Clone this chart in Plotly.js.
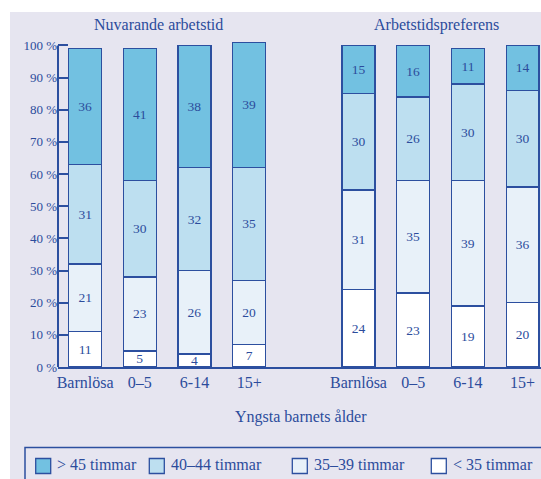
<!DOCTYPE html>
<html>
<head>
<meta charset="utf-8">
<script src="https://cdn.plot.ly/plotly-3.0.1.min.js"></script>
<style>html,body{margin:0;padding:0;background:#fff;}#chart{width:541px;height:479px;}</style>
</head>
<body>
<div id="chart"></div>
<script>
// ---- data ----
const categories = ['Barnlösa', '0–5', '6-14', '15+'];
const groupTitles = ['Nuvarande arbetstid', 'Arbetstidspreferens'];
const xTitle = 'Yngsta barnets ålder';
const seriesNames = ['< 35 timmar', '35–39 timmar', '40–44 timmar', '> 45 timmar'];
// first 4 values: Nuvarande arbetstid, last 4: Arbetstidspreferens
const under35 = [11, 5, 4, 7, 24, 23, 19, 20];
const h35_39 = [21, 23, 26, 20, 31, 35, 39, 36];
const h40_44 = [31, 30, 32, 35, 30, 26, 30, 30];
const over45 = [36, 41, 38, 39, 15, 16, 11, 14];
const yTicks = [0, 10, 20, 30, 40, 50, 60, 70, 80, 90, 100];
const yTickText = ['0 %', '10 %', '20 %', '30 %', '40 %', '50 %', '60 %', '70 %', '80 %', '90 %', '100 %'];

// ---- style ----
const seriesColors = ['#ffffff', '#e8f1f9', '#bddff0', '#72c1e1'];
const lineBlue = '#2c4f9f';
const textBlue = '#2c4c9c';
const bgLav = '#e6e5f0';
const FONT = 'Liberation Serif, Times New Roman, serif';

const W = 541, H = 479;
const M = {l: 58, r: 0, t: 39, b: 112};
const yMax = 102;
const xRange = [-0.496, 8.337];
const pw = W - M.l - M.r, ph = H - M.t - M.b;
const px = x => (x - M.l) / pw;
const py = y => (H - M.b - y) / ph;

const xPos = [0, 1, 2, 3, 5, 6, 7, 8];
const xLabels = categories.concat(categories);
const allSeries = [under35, h35_39, h40_44, over45];

const traces = allSeries.map((vals, i) => ({
  type: 'bar',
  name: seriesNames[i],
  x: xPos,
  y: vals,
  width: 0.6,
  marker: {color: seriesColors[i], line: {color: lineBlue, width: 1.3}},
  text: vals.map(String),
  textposition: 'inside',
  insidetextanchor: 'middle',
  textangle: 0,
  textfont: {family: FONT, size: 13.5, color: textBlue},
  hoverinfo: 'name+y',
  showlegend: false
}));

const shapes = [
  {type: 'rect', xref: 'paper', yref: 'paper', layer: 'below',
   x0: px(10), x1: px(600), y0: py(12), y1: py(520),
   fillcolor: bgLav, line: {width: 0}},
  {type: 'line', xref: 'paper', yref: 'paper', layer: 'above',
   x0: 0, x1: 0, y0: 0, y1: 100 / yMax,
   line: {color: lineBlue, width: 2}},
  {type: 'rect', xref: 'paper', yref: 'paper', layer: 'above',
   x0: px(25), x1: px(600), y0: py(447.5), y1: py(520),
   fillcolor: 'rgba(0,0,0,0)', line: {color: lineBlue, width: 1.5}}
];

const annotations = [
  {text: groupTitles[0], xref: 'paper', yref: 'paper', x: px(158), y: py(25),
   showarrow: false, xanchor: 'center', yanchor: 'middle',
   font: {family: FONT, size: 16, color: textBlue}},
  {text: groupTitles[1], xref: 'paper', yref: 'paper', x: px(436), y: py(25),
   showarrow: false, xanchor: 'center', yanchor: 'middle',
   font: {family: FONT, size: 16, color: textBlue}},
  {text: xTitle, xref: 'paper', yref: 'paper', x: px(301), y: py(417),
   showarrow: false, xanchor: 'center', yanchor: 'middle',
   font: {family: FONT, size: 16, color: textBlue}}
];

// manual legend (order as in the reference: > 45 first)
const legOrder = [3, 2, 1, 0];
const swX = [35.7, 149.3, 292.3, 431.3];
legOrder.forEach((si, k) => {
  shapes.push({type: 'rect', xref: 'paper', yref: 'paper', layer: 'above',
    x0: px(swX[k]), x1: px(swX[k] + 15), y0: py(473.5), y1: py(458.5),
    fillcolor: seriesColors[si], line: {color: lineBlue, width: 1.3}});
  annotations.push({text: seriesNames[si], xref: 'paper', yref: 'paper',
    x: px(swX[k] + 19.5), y: py(464.5), showarrow: false,
    xanchor: 'left', yanchor: 'middle',
    font: {family: FONT, size: 16, color: textBlue}});
});

const layout = {
  width: W, height: H,
  margin: M,
  paper_bgcolor: '#ffffff',
  plot_bgcolor: 'rgba(0,0,0,0)',
  barmode: 'stack',
  showlegend: false,
  uniformtext: {mode: 'show', minsize: 13.5},
  font: {family: FONT, color: textBlue},
  xaxis: {
    range: xRange, tickmode: 'array', tickvals: xPos, ticktext: xLabels,
    showgrid: false, zeroline: false, showline: true, linecolor: lineBlue, linewidth: 1.5,
    ticks: '', tickfont: {family: FONT, size: 16, color: textBlue}, fixedrange: true
  },
  yaxis: {
    range: [0, yMax], tickmode: 'array', tickvals: yTicks, ticktext: yTickText,
    showgrid: false, zeroline: false, showline: false,
    ticks: 'inside', ticklen: 10, tickwidth: 2, tickcolor: lineBlue,
    tickfont: {family: FONT, size: 13, color: textBlue}, fixedrange: true
  },
  shapes: shapes,
  annotations: annotations
};

Plotly.newPlot('chart', traces, layout, {displayModeBar: false, staticPlot: true});
</script>
</body>
</html>
